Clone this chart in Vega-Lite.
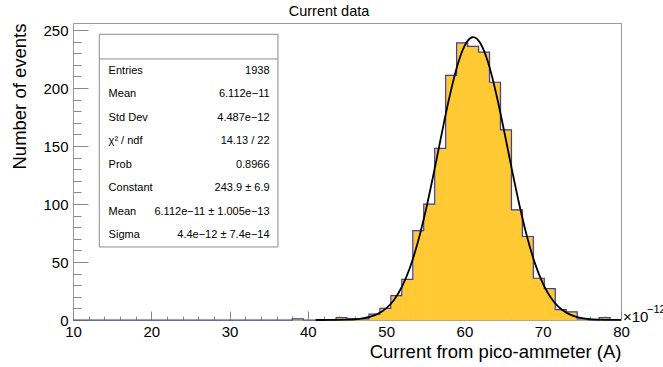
{
  "$schema": "https://vega.github.io/schema/vega-lite/v6.json",
  "width": 548,
  "height": 297,
  "autosize": {"type": "none"},
  "padding": {"left": 73, "top": 23, "right": 42, "bottom": 47},
  "background": "white",
  "title": {"text": "Current data", "fontSize": 14.5, "fontWeight": "normal", "anchor": "middle", "frame": "group", "offset": 4, "dx": -18, "color": "black"},
  "config": {
    "font": "Liberation Sans",
    "view": {"stroke": "#999999", "strokeWidth": 1},
    "axis": {"grid": false, "domain": false, "labelColor": "black", "titleColor": "black", "labelFontSize": 15, "titleFontWeight": "normal", "tickColor": "#888888", "tickWidth": 1, "zindex": 1}
  },
  "datasets": {
    "hist": [
      {"lo": 10, "hi": 11.4, "count": 0}, {"lo": 11.4, "hi": 12.8, "count": 0}, {"lo": 12.8, "hi": 14.2, "count": 0}, {"lo": 14.2, "hi": 15.6, "count": 0}, {"lo": 15.6, "hi": 17, "count": 0},
      {"lo": 17, "hi": 18.4, "count": 0}, {"lo": 18.4, "hi": 19.8, "count": 0}, {"lo": 19.8, "hi": 21.2, "count": 0}, {"lo": 21.2, "hi": 22.6, "count": 0}, {"lo": 22.6, "hi": 24, "count": 0},
      {"lo": 24, "hi": 25.4, "count": 0}, {"lo": 25.4, "hi": 26.8, "count": 0}, {"lo": 26.8, "hi": 28.2, "count": 0}, {"lo": 28.2, "hi": 29.6, "count": 0}, {"lo": 29.6, "hi": 31, "count": 0},
      {"lo": 31, "hi": 32.4, "count": 0}, {"lo": 32.4, "hi": 33.8, "count": 0}, {"lo": 33.8, "hi": 35.2, "count": 0}, {"lo": 35.2, "hi": 36.6, "count": 0}, {"lo": 36.6, "hi": 38, "count": 0},
      {"lo": 38, "hi": 39.4, "count": 1}, {"lo": 39.4, "hi": 40.8, "count": 0}, {"lo": 40.8, "hi": 42.2, "count": 0}, {"lo": 42.2, "hi": 43.6, "count": 0}, {"lo": 43.6, "hi": 45, "count": 2},
      {"lo": 45, "hi": 46.4, "count": 1}, {"lo": 46.4, "hi": 47.8, "count": 1}, {"lo": 47.8, "hi": 49.2, "count": 5}, {"lo": 49.2, "hi": 50.6, "count": 10}, {"lo": 50.6, "hi": 52, "count": 21},
      {"lo": 52, "hi": 53.4, "count": 35}, {"lo": 53.4, "hi": 54.8, "count": 77}, {"lo": 54.8, "hi": 56.2, "count": 100}, {"lo": 56.2, "hi": 57.6, "count": 148}, {"lo": 57.6, "hi": 59, "count": 211},
      {"lo": 59, "hi": 60.4, "count": 239}, {"lo": 60.4, "hi": 61.8, "count": 236}, {"lo": 61.8, "hi": 63.2, "count": 231}, {"lo": 63.2, "hi": 64.6, "count": 205}, {"lo": 64.6, "hi": 66, "count": 164},
      {"lo": 66, "hi": 67.4, "count": 95}, {"lo": 67.4, "hi": 68.8, "count": 72}, {"lo": 68.8, "hi": 70.2, "count": 36}, {"lo": 70.2, "hi": 71.6, "count": 27}, {"lo": 71.6, "hi": 73, "count": 9},
      {"lo": 73, "hi": 74.4, "count": 7}, {"lo": 74.4, "hi": 75.8, "count": 1}, {"lo": 75.8, "hi": 77.2, "count": 0}, {"lo": 77.2, "hi": 78.6, "count": 2}, {"lo": 78.6, "hi": 80, "count": 0}
    ],
    "fit": [
      {"x": 41, "y": 0.007}, {"x": 42, "y": 0.019}, {"x": 43, "y": 0.05}, {"x": 44, "y": 0.126}, {"x": 45, "y": 0.3},
      {"x": 46, "y": 0.66}, {"x": 47, "y": 1.41}, {"x": 48, "y": 2.86}, {"x": 49, "y": 5.49}, {"x": 50, "y": 10.01},
      {"x": 51, "y": 17.32}, {"x": 52, "y": 28.47}, {"x": 53, "y": 44.43}, {"x": 54, "y": 65.88}, {"x": 55, "y": 92.71},
      {"x": 56, "y": 123.94}, {"x": 57, "y": 157.34}, {"x": 58, "y": 189.68}, {"x": 59, "y": 217.17}, {"x": 60, "y": 236.12},
      {"x": 61, "y": 243.81}, {"x": 61.12, "y": 243.9}, {"x": 62, "y": 239.07}, {"x": 63, "y": 222.62}, {"x": 64, "y": 196.87},
      {"x": 65, "y": 165.33}, {"x": 66, "y": 131.86}, {"x": 67, "y": 99.86}, {"x": 68, "y": 71.83}, {"x": 69, "y": 49.06},
      {"x": 70, "y": 31.82}, {"x": 71, "y": 19.6}, {"x": 72, "y": 11.47}, {"x": 73, "y": 6.37}, {"x": 74, "y": 3.36},
      {"x": 75, "y": 1.68}, {"x": 76, "y": 0.8}, {"x": 77, "y": 0.36}, {"x": 78, "y": 0.16}, {"x": 79, "y": 0.063}, {"x": 80, "y": 0.025}
    ],
    "stats": [
      {"name": "Entries", "value": "1938", "row": 0},
      {"name": "Mean", "value": "6.112e−11", "row": 1},
      {"name": "Std Dev", "value": "4.487e−12", "row": 2},
      {"name": "χ² / ndf", "value": "14.13 / 22", "row": 3},
      {"name": "Prob", "value": "0.8966", "row": 4},
      {"name": "Constant", "value": "243.9 ± 6.9", "row": 5},
      {"name": "Mean", "value": "6.112e−11 ± 1.005e−13", "row": 6},
      {"name": "Sigma", "value": "4.4e−12 ± 7.4e−14", "row": 7}
    ],
    "one": [{}]
  },
  "resolve": {"scale": {"y": "independent"}, "axis": {"x": "independent", "y": "independent"}},
  "layer": [
    {
      "data": {"name": "hist"},
      "transform": [{"filter": "datum.count > 0"}],
      "mark": {"type": "bar", "color": "#ffc933", "stroke": "#ffc933", "strokeWidth": 0.7, "binSpacing": 0},
      "encoding": {
        "x": {"field": "lo", "type": "quantitative", "bin": {"binned": true}, "scale": {"domain": [10, 80], "nice": false, "zero": false},
              "axis": {"orient": "bottom", "values": [10,12,14,16,18,20,22,24,26,28,30,32,34,36,38,40,42,44,46,48,50,52,54,56,58,60,62,64,66,68,70,72,74,76,78,80], "tickSize": -4, "labels": false, "title": null}},
        "x2": {"field": "hi"},
        "y": {"field": "count", "type": "quantitative", "scale": {"domain": [0, 256.1], "nice": false},
              "axis": {"orient": "left", "values": [0,10,20,30,40,50,60,70,80,90,100,110,120,130,140,150,160,170,180,190,200,210,220,230,240,250], "tickSize": -8, "labels": false, "title": null}}
      }
    },
    {
      "data": {"name": "hist"},
      "mark": {"type": "line", "interpolate": "step-after", "color": "#3f3fa8", "strokeWidth": 1.2},
      "encoding": {
        "x": {"field": "lo", "type": "quantitative", "scale": {"domain": [10, 80], "nice": false, "zero": false},
              "axis": {"orient": "bottom", "values": [10,20,30,40,50,60,70,80], "tickSize": -9, "labels": false, "title": null}},
        "y": {"field": "count", "type": "quantitative", "scale": {"domain": [0, 256.1], "nice": false},
              "axis": {"orient": "left", "values": [0,50,100,150,200,250], "tickSize": -15, "labels": false, "title": null}}
      }
    },
    {
      "data": {"name": "fit"},
      "mark": {"type": "line", "interpolate": "monotone", "color": "black", "strokeWidth": 1.8},
      "encoding": {
        "x": {"field": "x", "type": "quantitative", "scale": {"domain": [10, 80], "nice": false, "zero": false},
              "axis": {"orient": "bottom", "values": [10,20,30,40,50,60,70,80], "ticks": false, "labelPadding": 4, "labelFlush": false, "labelOverlap": false,
                       "title": "Current from pico-ammeter (A)", "titleFontSize": 18.5, "titleAlign": "right", "titleAnchor": "end", "titleX": 548, "titleY": 37, "titleBaseline": "alphabetic"}},
        "y": {"field": "y", "type": "quantitative", "scale": {"domain": [0, 256.1], "nice": false},
              "axis": {"orient": "left", "values": [0,50,100,150,200,250], "ticks": false, "labelPadding": 5, "labelOverlap": false, "labelFlush": false,
                       "title": "Number of events", "titleFontSize": 18.5, "titleAngle": -90, "titleAlign": "right", "titleAnchor": "end", "titleX": -54, "titleY": 0, "titleBaseline": "middle"}}
      }
    },
    {
      "data": {"name": "one"},
      "mark": {"type": "rect", "fill": "white", "stroke": "#8c8c8c", "strokeWidth": 1},
      "encoding": {
        "x": {"datum": 13.36, "type": "quantitative", "scale": {"domain": [10, 80], "nice": false, "zero": false}, "axis": null},
        "x2": {"datum": 36.18},
        "y": {"datum": -1.55, "type": "quantitative", "scale": {"domain": [-2.03, 10.608], "reverse": true, "nice": false, "zero": false}, "axis": null},
        "y2": {"datum": 7.5}
      }
    },
    {
      "data": {"name": "one"},
      "mark": {"type": "rule", "color": "#8c8c8c", "strokeWidth": 1},
      "encoding": {
        "x": {"datum": 13.36, "type": "quantitative", "scale": {"domain": [10, 80], "nice": false, "zero": false}, "axis": null},
        "x2": {"datum": 36.18},
        "y": {"datum": -0.5, "type": "quantitative", "scale": {"domain": [-2.03, 10.608], "reverse": true, "nice": false, "zero": false}, "axis": null}
      }
    },
    {
      "data": {"name": "stats"},
      "mark": {"type": "text", "align": "left", "baseline": "middle", "fontSize": 11, "color": "black"},
      "encoding": {
        "x": {"datum": 14.55, "type": "quantitative", "scale": {"domain": [10, 80], "nice": false, "zero": false}, "axis": null},
        "y": {"field": "row", "type": "quantitative", "scale": {"domain": [-2.03, 10.608], "reverse": true, "nice": false, "zero": false}, "axis": null},
        "text": {"field": "name"}
      }
    },
    {
      "data": {"name": "stats"},
      "mark": {"type": "text", "align": "right", "baseline": "middle", "fontSize": 11, "color": "black"},
      "encoding": {
        "x": {"datum": 35.11, "type": "quantitative", "scale": {"domain": [10, 80], "nice": false, "zero": false}, "axis": null},
        "y": {"field": "row", "type": "quantitative", "scale": {"domain": [-2.03, 10.608], "reverse": true, "nice": false, "zero": false}, "axis": null},
        "text": {"field": "value"}
      }
    },
    {
      "data": {"name": "one"},
      "mark": {"type": "text", "text": "×10", "align": "left", "baseline": "middle", "fontSize": 15, "dx": 2, "dy": -3, "color": "black"},
      "encoding": {
        "x": {"datum": 80, "type": "quantitative", "scale": {"domain": [10, 80], "nice": false, "zero": false}, "axis": null},
        "y": {"datum": 0, "type": "quantitative", "scale": {"domain": [0, 256.1], "nice": false}, "axis": null}
      }
    },
    {
      "data": {"name": "one"},
      "mark": {"type": "text", "text": "−12", "align": "left", "baseline": "middle", "fontSize": 11, "dx": 26, "dy": -10, "color": "black"},
      "encoding": {
        "x": {"datum": 80, "type": "quantitative", "scale": {"domain": [10, 80], "nice": false, "zero": false}, "axis": null},
        "y": {"datum": 0, "type": "quantitative", "scale": {"domain": [0, 256.1], "nice": false}, "axis": null}
      }
    }
  ]
}
